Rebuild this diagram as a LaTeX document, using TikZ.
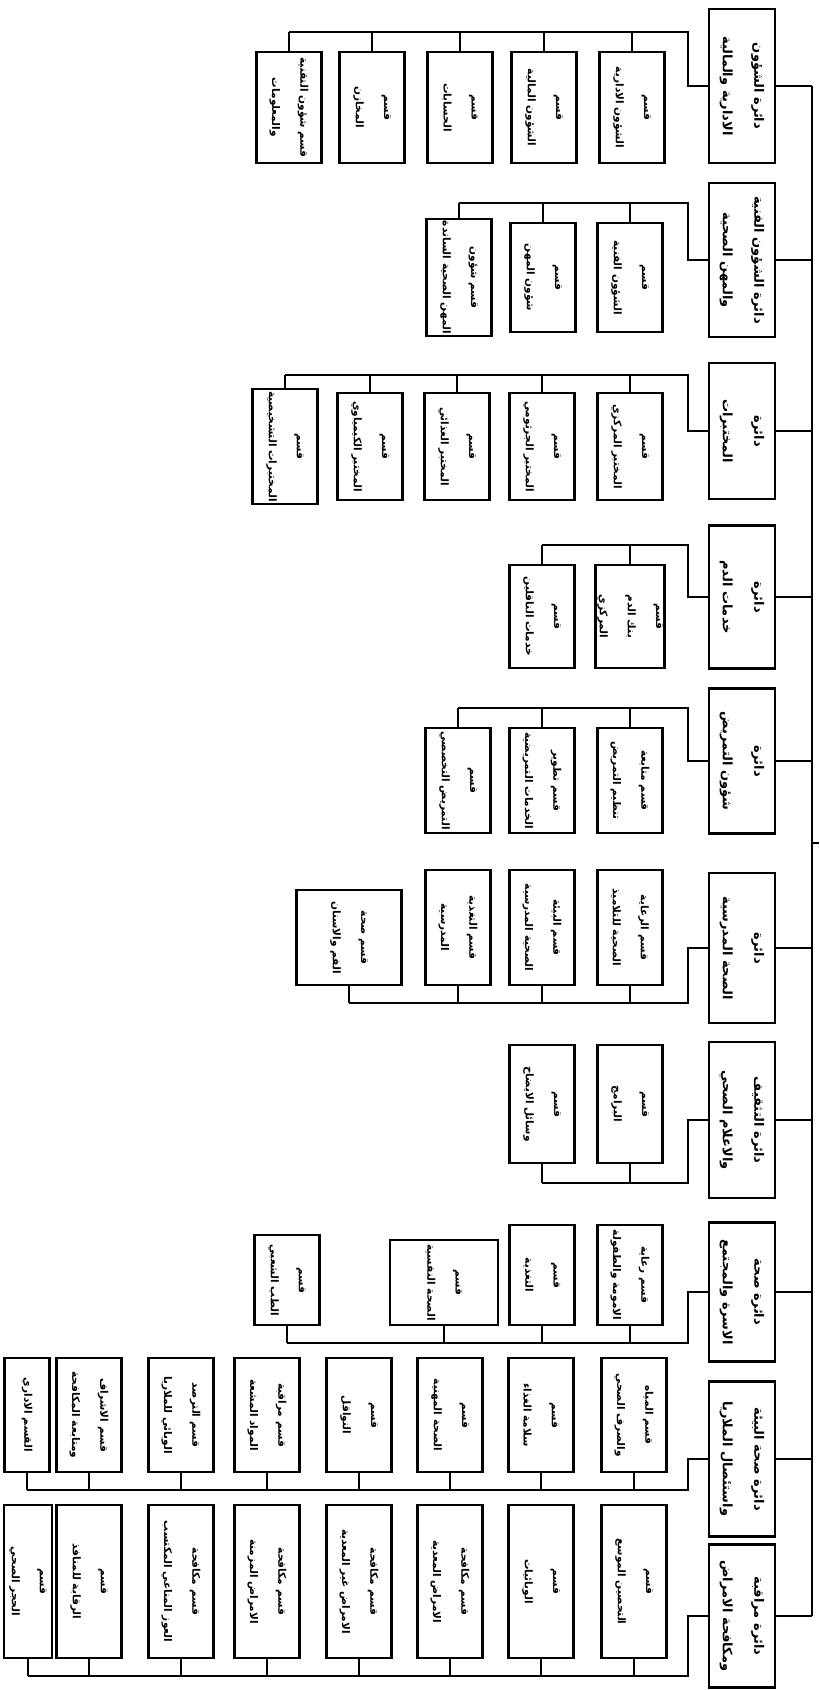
\documentclass[tikz,border=0pt]{standalone}
\usepackage{fontspec}
\newfontfamily\arabicfont[Script=Arabic]{DejaVu Sans}
\TeXXeTstate=1
\newcommand{\artext}[1]{\beginR #1\endR}

\tikzset{
  dept/.style={draw, line width=1.4pt, rotate=-90, minimum height=1.32cm,
    align=center, inner sep=1pt, font=\arabicfont\bfseries\fontsize{7.4}{18}\selectfont},
  sec/.style={draw, line width=1.2pt, rotate=-90, minimum height=1.3cm,
    minimum width=2.2cm, align=center, inner sep=1pt,
    font=\arabicfont\bfseries\fontsize{6}{16}\selectfont},
  link/.style={line width=1.2pt},
}

\begin{document}
\begin{tikzpicture}[x=0.02cm, y=-0.02cm]
  \useasboundingbox (0,0) rectangle (819,1690);

  % departments
  \node[dept, minimum width=3.08cm] (d1) at (742,86) {\artext{دائرة الشؤون}\\\artext{الادارية والمالية}};
  \node[dept, minimum width=3.08cm] (d2) at (742,260) {\artext{دائرة الشؤون الفنية}\\\artext{والمهن الصحية}};
  \node[dept, minimum width=2.72cm] (d3) at (742,431) {\artext{دائرة}\\\artext{المختبرات}};
  \node[dept, minimum width=2.86cm] (d4) at (742,597) {\artext{دائرة}\\\artext{خدمات الدم}};
  \node[dept, minimum width=2.9cm] (d5) at (742,761) {\artext{دائرة}\\\artext{شؤون التمريض}};
  \node[dept, minimum width=3.0cm] (d6) at (742,948) {\artext{دائرة}\\\artext{الصحة المدرسية}};
  \node[dept, minimum width=3.12cm] (d7) at (742,1120) {\artext{دائرة التثقيف}\\\artext{والاعلام الصحي}};
  \node[dept, minimum width=2.78cm] (d8) at (742,1292) {\artext{دائرة صحة}\\\artext{الاسرة والمجتمع}};
  \node[dept, minimum width=3.1cm] (d9) at (742,1459) {\artext{دائرة صحة البيئة}\\\artext{واستئصال الملاريا}};
  \node[dept, minimum width=2.86cm] (d10) at (742,1616) {\artext{دائرة مراقبة}\\\artext{ومكافحة الامراض}};

  % trunk
  \coordinate (trunk) at (812,0);
  \coordinate (up) at (819,843);
  \draw[link] (d1.north -| trunk) -- (d10.north -| trunk);
  \draw[link] (up -| trunk) -- (up);
  \foreach \d in {1,...,10}
    \draw[link] (d\d.north) -- (d\d.north -| trunk);

  % sections of d1
  \node[sec, minimum width=2.22cm] (d1a) at (632,107.5) {\artext{قسم}\\\artext{الشؤون الادارية}};
  \node[sec, minimum width=2.22cm] (d1b) at (544,107.5) {\artext{قسم}\\\artext{الشؤون المالية}};
  \node[sec, minimum width=2.22cm] (d1c) at (460,107.5) {\artext{قسم}\\\artext{الحسابات}};
  \node[sec, minimum width=2.22cm] (d1d) at (372,107.5) {\artext{قسم}\\\artext{المخازن}};
  \node[sec, minimum width=2.22cm] (d1e) at (289,107.5) {\artext{قسم شؤون التقنية}\\\artext{والمعلومات}};
  \coordinate (b1) at (688,32);
  \draw[link] (d1.south) -| (b1) -- (b1 -| d1e.west);
  \foreach \s in {a,...,e}
    \draw[link] (d1\s.west) -- (d1\s.west |- b1);

  % sections of d2
  \node[sec, minimum width=2.18cm] (d2a) at (630,277.5) {\artext{قسم}\\\artext{الشؤون الفنية}};
  \node[sec, minimum width=2.18cm] (d2b) at (543,277.5) {\artext{قسم}\\\artext{شؤون المهن}};
  \node[sec, minimum width=2.18cm] (d2c) at (459,277.5) {\artext{قسم شؤون}\\\artext{المهن الصحية الساندة}};
  \coordinate (b2) at (688,203);
  \draw[link] (d2.south) -| (b2) -- (b2 -| d2c.west);
  \foreach \s in {a,...,c}
    \draw[link] (d2\s.west) -- (d2\s.west |- b2);

  % sections of d3
  \node[sec, minimum width=2.14cm] (d3a) at (630,446.5) {\artext{قسم}\\\artext{المختبر المركزي}};
  \node[sec, minimum width=2.14cm] (d3b) at (542,446.5) {\artext{قسم}\\\artext{المختبر الجرثومي}};
  \node[sec, minimum width=2.14cm] (d3c) at (457,446.5) {\artext{قسم}\\\artext{المختبر الغذائي}};
  \node[sec, minimum width=2.14cm] (d3d) at (370,446.5) {\artext{قسم}\\\artext{المختبر الكيمياوي}};
  \node[sec, minimum width=2.14cm] (d3e) at (285,446.5) {\artext{قسم}\\\artext{المختبرات التشخيصية}};
  \coordinate (b3) at (688,375);
  \draw[link] (d3.south) -| (b3) -- (b3 -| d3e.west);
  \foreach \s in {a,...,e}
    \draw[link] (d3\s.west) -- (d3\s.west |- b3);

  % sections of d4
  \node[sec, minimum width=2.06cm] (d4a) at (630,616.5) {\artext{قسم}\\\artext{بنك الدم}\\\artext{المركزي}};
  \node[sec, minimum width=2.06cm] (d4b) at (542,616.5) {\artext{قسم}\\\artext{خدمات الناقلين}};
  \coordinate (b4) at (688,545);
  \draw[link] (d4.south) -| (b4) -- (b4 -| d4b.west);
  \foreach \s in {a,b}
    \draw[link] (d4\s.west) -- (d4\s.west |- b4);

  % sections of d5
  \node[sec, minimum width=2.1cm] (d5a) at (630,780.5) {\artext{قسم متابعة}\\\artext{تنظيم التمريض}};
  \node[sec, minimum width=2.1cm] (d5b) at (542,780.5) {\artext{قسم تطوير}\\\artext{الخدمات التمريضية}};
  \node[sec, minimum width=2.1cm] (d5c) at (458,780.5) {\artext{قسم}\\\artext{التمريض التخصصي}};
  \coordinate (b5) at (688,708);
  \draw[link] (d5.south) -| (b5) -- (b5 -| d5c.west);
  \foreach \s in {a,...,c}
    \draw[link] (d5\s.west) -- (d5\s.west |- b5);

  % sections of d6
  \node[sec, minimum width=2.3cm] (d6a) at (630,927.5) {\artext{قسم الرعاية}\\\artext{الصحية للتلاميذ}};
  \node[sec, minimum width=2.3cm] (d6b) at (542,927.5) {\artext{قسم البيئة}\\\artext{الصحية المدرسية}};
  \node[sec, minimum width=2.3cm] (d6c) at (458,927.5) {\artext{قسم التغذية}\\\artext{المدرسية}};
  \node[sec, minimum width=1.9cm, minimum height=2.1cm] (d6d) at (349,937.5) {\artext{قسم صحة}\\\artext{الفم والاسنان}};
  \coordinate (b6) at (688,1003);
  \draw[link] (d6.south) -| (b6) -- (b6 -| d6d.east);
  \foreach \s in {a,...,d}
    \draw[link] (d6\s.east) -- (d6\s.east |- b6);

  % sections of d7
  \node[sec, minimum width=2.36cm] (d7a) at (630,1104) {\artext{قسم}\\\artext{البرامج}};
  \node[sec, minimum width=2.36cm] (d7b) at (542,1104) {\artext{قسم}\\\artext{وسائل الايضاح}};
  \coordinate (b7) at (688,1183);
  \draw[link] (d7.south) -| (b7) -- (b7 -| d7b.east);
  \foreach \s in {a,b}
    \draw[link] (d7\s.east) -- (d7\s.east |- b7);

  % sections of d8
  \node[sec, minimum width=2.0cm] (d8a) at (630,1275) {\artext{قسم رعاية}\\\artext{الامومة والطفولة}};
  \node[sec, minimum width=2.0cm] (d8b) at (542,1275) {\artext{قسم}\\\artext{التغذية}};
  \node[sec, minimum width=1.7cm, minimum height=2.16cm] (d8c) at (444,1282.5) {\artext{قسم}\\\artext{الصحة النفسية}};
  \node[sec, minimum width=1.8cm] (d8d) at (287,1280) {\artext{قسم}\\\artext{الطب الشعبي}};
  \coordinate (b8) at (688,1343);
  \draw[link] (d8.south) -| (b8) -- (b8 -| d8d.east);
  \foreach \s in {a,...,d}
    \draw[link] (d8\s.east) -- (d8\s.east |- b8);

  % sections of d9
  \node[sec, minimum width=2.28cm] (d9a) at (634,1415) {\artext{قسم المياه}\\\artext{والصرف الصحي}};
  \node[sec, minimum width=2.28cm] (d9b) at (541,1415) {\artext{قسم}\\\artext{سلامة الغذاء}};
  \node[sec, minimum width=2.28cm] (d9c) at (450,1415) {\artext{قسم}\\\artext{الصحة المهنية}};
  \node[sec, minimum width=2.28cm] (d9d) at (359,1415) {\artext{قسم}\\\artext{النواقل}};
  \node[sec, minimum width=2.28cm] (d9e) at (267,1415) {\artext{قسم مراقبة}\\\artext{المواد المشعة}};
  \node[sec, minimum width=2.28cm] (d9f) at (181,1415) {\artext{قسم الترصد}\\\artext{الوبائي للملاريا}};
  \node[sec, minimum width=2.28cm] (d9g) at (89,1415) {\artext{قسم الاشراف}\\\artext{ومتابعة المكافحة}};
  \node[sec, minimum width=2.28cm, minimum height=0.9cm] (d9h) at (27,1415) {\artext{القسم الاداري}};
  \coordinate (b9) at (688,1490);
  \draw[link] (d9.south) -| (b9) -- (b9 -| d9h.east);
  \foreach \s in {a,...,h}
    \draw[link] (d9\s.east) -- (d9\s.east |- b9);

  % sections of d10
  \node[sec, minimum width=3.06cm] (d10a) at (634,1581.5) {\artext{قسم}\\\artext{التحصين الموسع}};
  \node[sec, minimum width=3.06cm] (d10b) at (541,1581.5) {\artext{قسم}\\\artext{الوبائيات}};
  \node[sec, minimum width=3.06cm] (d10c) at (450,1581.5) {\artext{قسم مكافحة}\\\artext{الامراض المعدية}};
  \node[sec, minimum width=3.06cm] (d10d) at (359,1581.5) {\artext{قسم مكافحة}\\\artext{الامراض غير المعدية}};
  \node[sec, minimum width=3.06cm] (d10e) at (267,1581.5) {\artext{قسم مكافحة}\\\artext{الامراض المزمنة}};
  \node[sec, minimum width=3.06cm] (d10f) at (181,1581.5) {\artext{قسم مكافحة}\\\artext{العوز المناعي المكتسب}};
  \node[sec, minimum width=3.06cm] (d10g) at (89,1581.5) {\artext{قسم}\\\artext{الرقابة للمنافذ}};
  \node[sec, minimum width=3.06cm, minimum height=0.96cm] (d10h) at (28,1581.5) {\artext{قسم}\\\artext{الحجر الصحي}};
  \coordinate (b10) at (688,1676);
  \draw[link] (d10.south) -| (b10) -- (b10 -| d10h.east);
  \foreach \s in {a,...,h}
    \draw[link] (d10\s.east) -- (d10\s.east |- b10);
\end{tikzpicture}
\end{document}
